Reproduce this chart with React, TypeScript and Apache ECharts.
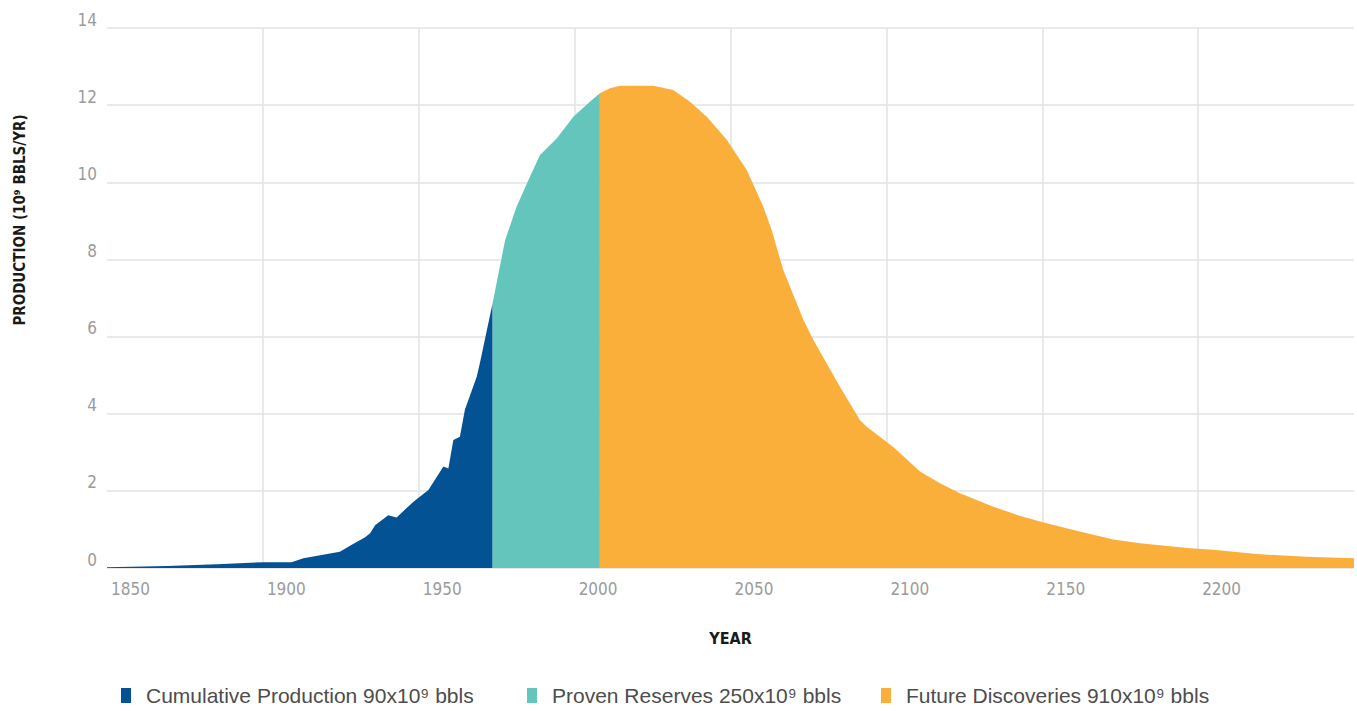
import React, { useEffect, useRef } from "react";
import * as echarts from "echarts";

const seriesNames = [
  "Cumulative Production 90x10⁹ bbls",
  "Proven Reserves 250x10⁹ bbls",
  "Future Discoveries 910x10⁹ bbls",
];
const seriesColors = ["#035293", "#64C5BC", "#F9AF3A"];

// [year, production (10^9 bbls/yr)]
const cumulativeProduction: [number, number][] = [
  [1850, 0.02], [1869.2, 0.05], [1885.2, 0.1], [1900.1, 0.15], [1909.2, 0.15],
  [1913, 0.25], [1924.7, 0.42], [1928.5, 0.6], [1932.8, 0.8], [1934.4, 0.9],
  [1936, 1.11], [1940.2, 1.37], [1942.9, 1.31], [1948.3, 1.72], [1953.1, 2.02],
  [1957.9, 2.63], [1959.5, 2.58], [1961.1, 3.32], [1963.2, 3.4], [1964.8, 4.1],
  [1968.6, 4.96], [1969.6, 5.31], [1973.7, 6.87],
];
const provenReserves: [number, number][] = [
  [1973.7, 6.87], [1977.7, 8.5], [1981.4, 9.37], [1985.7, 10.15], [1988.9, 10.71],
  [1994.3, 11.14], [1999.6, 11.7], [2004.9, 12.09], [2008.1, 12.31],
];
const futureDiscoveries: [number, number][] = [
  [2008.1, 12.31], [2011.3, 12.44], [2014.6, 12.5], [2025.2, 12.5], [2031.6, 12.39],
  [2037, 12.09], [2042.4, 11.7], [2048.8, 11.1], [2055.2, 10.32], [2060.5, 9.37],
  [2063.2, 8.76], [2066.9, 7.73], [2073.4, 6.43], [2076.6, 5.91], [2085.1, 4.7],
  [2091.5, 3.84], [2093.7, 3.66], [2102.2, 3.14], [2110.8, 2.5], [2117.2, 2.2],
  [2123.6, 1.94], [2134.3, 1.59], [2142.9, 1.35], [2151.4, 1.16], [2160, 0.985],
  [2172.8, 0.74], [2181.4, 0.64], [2197.4, 0.51], [2204.9, 0.47], [2218.8, 0.36],
  [2234.8, 0.29], [2250, 0.25],
];

const xMin = 1850;
const xMax = 2250;
const xInterval = 50;
const yMin = 0;
const yMax = 14;
const yInterval = 2;

const narrow = '"Liberation Sans Narrow", "DejaVu Sans Condensed", "Roboto Condensed", "Liberation Sans", sans-serif';
const legendLefts = [116, 522, 876];

export default function App() {
  const ref = useRef<HTMLDivElement>(null);
  useEffect(() => {
    if (!ref.current) return;
    const chart = echarts.init(ref.current, null, { renderer: "svg" });
    const datasets = [cumulativeProduction, provenReserves, futureDiscoveries];
    const option: any = {
      animation: false,
      backgroundColor: "#ffffff",
      grid: { left: 107, right: 3, top: 28, bottom: 143 },
      legend: seriesNames.map((n, i) => ({
        data: [n],
        left: legendLefts[i],
        top: 680,
        icon: "rect",
        itemWidth: 10,
        itemHeight: 15,
        selectedMode: false,
        textStyle: {
          color: "#4d4d4d",
          fontSize: 21,
          fontFamily: '"Liberation Sans", Arial, sans-serif',
          padding: [0, 0, 0, 10],
        },
      })),
      xAxis: {
        type: "value",
        min: xMin,
        max: xMax,
        interval: xInterval,
        name: "YEAR",
        nameLocation: "middle",
        nameGap: 62,
        nameTextStyle: {
          color: "#1a1a1a",
          fontWeight: "bold",
          fontSize: 16,
          fontFamily: narrow,
        },
        axisLine: { show: false },
        axisTick: { show: false },
        axisLabel: {
          showMaxLabel: false,
          align: "left",
          margin: 12,
          padding: [0, 0, 0, 4],
          color: "#9b9b9b",
          fontSize: 17,
          fontFamily: narrow,
          formatter: (v: number) => String(v),
        },
        splitLine: {
          show: true,
          showMinLine: false,
          showMaxLine: false,
          lineStyle: { color: "#e3e3e3", width: 1.5 },
        },
      },
      yAxis: {
        type: "value",
        min: yMin,
        max: yMax,
        interval: yInterval,
        axisLine: { show: false },
        axisTick: { show: false },
        axisLabel: {
          margin: 10,
          verticalAlign: "bottom",
          color: "#9b9b9b",
          fontSize: 17,
          fontFamily: narrow,
        },
        splitLine: { show: true, lineStyle: { color: "#e3e3e3", width: 1.5 } },
      },
      graphic: [
        {
          type: "text",
          x: 20,
          y: 220,
          rotation: Math.PI / 2,
          style: {
            text: "PRODUCTION (10⁹ BBLS/YR)",
            fill: "#1a1a1a",
            font: `bold 15px ${narrow}`,
            textAlign: "center",
            textVerticalAlign: "middle",
          },
        },
      ],
      series: datasets.map((d, i) => ({
        name: seriesNames[i],
        type: "line",
        data: d,
        symbol: "none",
        showSymbol: false,
        smooth: false,
        color: seriesColors[i],
        lineStyle: { width: 0, color: seriesColors[i] },
        areaStyle: { color: seriesColors[i], opacity: 1 },
        emphasis: { disabled: true },
      })),
    };
    chart.setOption(option);
    return () => chart.dispose();
  }, []);
  return (
    <div
      ref={ref}
      style={{ position: "fixed", left: 0, top: 0, width: 1357, height: 711 }}
    />
  );
}
